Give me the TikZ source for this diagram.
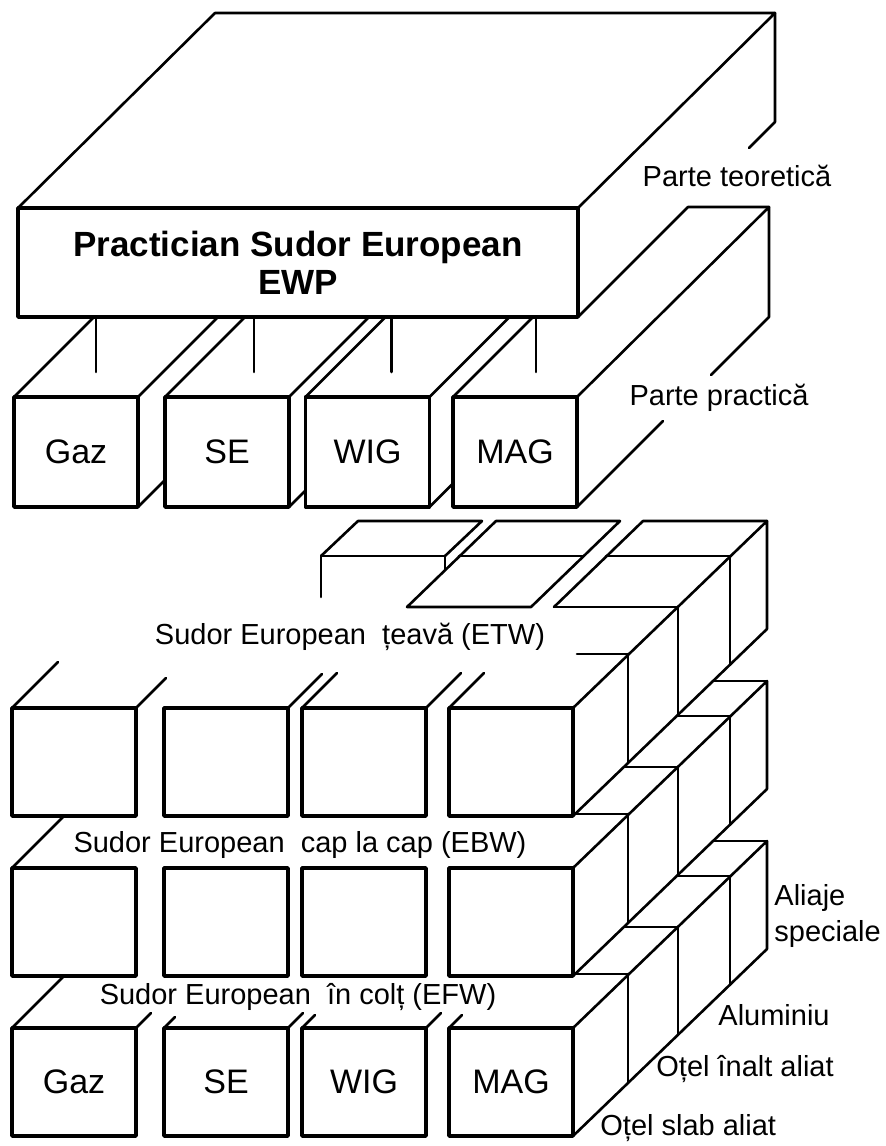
\documentclass[tikz,border=0pt]{standalone}
\usepackage{fontspec}
\setmainfont{Liberation Sans}
\begin{document}
\begin{tikzpicture}[x=0.5pt,y=-0.5pt,line cap=round,line join=round,
    edge/.style={line width=1.3pt},
    face/.style={draw,line width=1.8pt,inner sep=0pt,outer sep=0pt,minimum width=62pt,minimum height=55pt,font=\fontsize{17}{20}\selectfont},
    cell/.style={face,minimum height=54pt},
    lbl/.style={inner sep=0pt,font=\fontsize{14.5}{18}\selectfont}]
  \useasboundingbox (0,0) rectangle (885,1146);

  \node[face,minimum width=280pt,minimum height=54.5pt,align=center,font=\bfseries\fontsize{17.5}{19}\selectfont] (ewp) at (298,262.5) {Practician Sudor European\\EWP};
  \draw[edge] (ewp.north west) -- ++(197,-195) -- ++(560,0) -- (ewp.north east);
  \draw[edge] (ewp.north east) ++(197,-195) -- ++(0,109) -- ++(-26,26);
  \draw[edge] (ewp.south east) -- ++(110,-110) -- ++(81,0);

  \node[face] (pgaz) at (76,452) {Gaz};
  \node[face] (pse) at (227,452) {SE};
  \node[face] (pwig) at (367.5,452) {WIG};
  \node[face] (pmag) at (515,452) {MAG};

  \draw[edge] (pgaz.north west) -- ++(80,-80) (pgaz.north east) -- ++(80,-80);
  \draw[edge] (pse.north west) -- ++(80,-80) (pse.north east) -- ++(80,-80);
  \draw[edge] (pwig.north west) -- ++(80,-80) (pwig.north east) -- ++(80,-80);
  \draw[edge] (pmag.north west) -- ++(80,-80);
  \draw[edge] (pgaz.south east) -- ++(27,-27) (pse.south east) -- ++(16,-16) (pwig.south east) -- ++(23,-23);
  \draw[edge] (pmag.north east) -- ++(192,-190) -- ++(0,110) -- ++(-58,58);
  \draw[edge] (pmag.south east) -- ++(86,-86);

  \draw[edge] (pgaz.north) ++(20,-25) -- ++(0,-55);
  \draw[edge] (pse.north) ++(27,-25) -- ++(0,-55);
  \draw[edge] (pwig.north) ++(24,-25) -- ++(0,-55);
  \draw[edge] (pmag.north) ++(21,-25) -- ++(0,-55);

  \node[lbl] (teor) at (737,176) {Parte teoretică};
  \node[lbl] (pract) at (719,398) {Parte practică};

  \node[cell] (a1) at (74,762) {};
  \node[cell] (a2) at (226,762) {};
  \node[cell] (a3) at (364,762) {};
  \node[cell] (a4) at (511,762) {};
  \node[cell] (b1) at (74,922) {};
  \node[cell] (b2) at (226,922) {};
  \node[cell] (b3) at (364,922) {};
  \node[cell] (b4) at (511,922) {};
  \node[cell] (c1) at (74,1082) {Gaz};
  \node[cell] (c2) at (226,1082) {SE};
  \node[cell] (c3) at (364,1082) {WIG};
  \node[cell] (c4) at (511,1082) {MAG};

  \draw[edge] (a1.north west) -- ++(46,-46) (a1.north east) -- ++(30,-30)
    (a2.north east) -- ++(34,-34) (a3.north west) -- ++(35,-35)
    (a3.north east) -- ++(35,-35) (a4.north west) -- ++(35,-35);
  \draw[edge] (a2.north west) ++(157,-111) -- ++(0,-41) -- ++(124,0) -- ++(0,13);
  \draw[edge] (a2.north west) ++(157,-152) -- ++(37,-35) -- ++(124,0) -- ++(-37,35);
  \draw[edge] (a3.north west) ++(105,-101) -- ++(89,-86) -- ++(124,0) -- ++(-89,86) -- cycle;
  \draw[edge] (a3.north west) ++(157,-152) -- ++(124,0);
  \draw[edge] (a4.north west) ++(105,-101) -- ++(124,0) (a4.north west) ++(157,-152) -- ++(124,0);
  \draw[edge] (a4.north west) ++(105,-101) -- ++(89,-86) -- ++(124,0);
  \draw[edge] (a4.north east) ++(4,-54) -- ++(51,0);
  \draw[edge] (a4.north east) -- ++(194,-187) -- ++(0,108) -- (a4.south east);
  \draw[edge] (a4.north east) ++(55,-54) -- ++(0,108) (a4.north east) ++(105,-101) -- ++(0,108)
    (a4.north east) ++(157,-152) -- ++(0,108);

  \draw[edge] (b1.north west) -- ++(52,-52);
  \draw[edge] (b4.north east) -- ++(194,-187) -- ++(0,108) -- (b4.south east);
  \draw[edge] (b4.north east) ++(55,-54) -- ++(0,108) (b4.north east) ++(105,-101) -- ++(0,108)
    (b4.north east) ++(157,-152) -- ++(0,108);
  \draw[edge] (b4.north east) ++(2,-54) -- ++(53,0) (b4.north east) ++(51,-101) -- ++(54,0)
    (b4.north east) ++(104,-152) -- ++(53,0) (b4.north east) ++(140,-187) -- ++(54,0);

  \draw[edge] (c1.north west) -- ++(52,-52);
  \draw[edge] (c1.north east) -- ++(15,-15) (c2.north west) -- ++(11,-11)
    (c2.north east) -- ++(15,-15) (c3.north west) -- ++(13,-13)
    (c3.north east) -- ++(15,-15) (c4.north west) -- ++(13,-13);
  \draw[edge] (c4.north east) -- ++(194,-187) -- ++(0,108) -- (c4.south east);
  \draw[edge] (c4.north east) ++(55,-54) -- ++(0,108) (c4.north east) ++(105,-101) -- ++(0,108)
    (c4.north east) ++(157,-152) -- ++(0,108);
  \draw[edge] (c4.north east) ++(2,-54) -- ++(53,0) (c4.north east) ++(51,-101) -- ++(54,0)
    (c4.north east) ++(104,-152) -- ++(53,0) (c4.north east) ++(140,-187) -- ++(54,0);

  \node[lbl] (etw) at (350,637) {Sudor European\ \ țeavă (ETW)};
  \node[lbl] (ebw) at (300,845) {Sudor European\ \ cap la cap (EBW)};
  \node[lbl] (efw) at (298,997) {Sudor European\ \ în colț (EFW)};
  \node[lbl,anchor=west,align=left] (mat4) at (774,916) {Aliaje\\speciale};
  \node[lbl,anchor=west] (mat3) at (718,1015) {Aluminiu};
  \node[lbl,anchor=west] (mat2) at (656,1069) {Oțel înalt aliat};
  \node[lbl,anchor=west] (mat1) at (600,1128) {Oțel slab aliat};
\end{tikzpicture}
\end{document}
